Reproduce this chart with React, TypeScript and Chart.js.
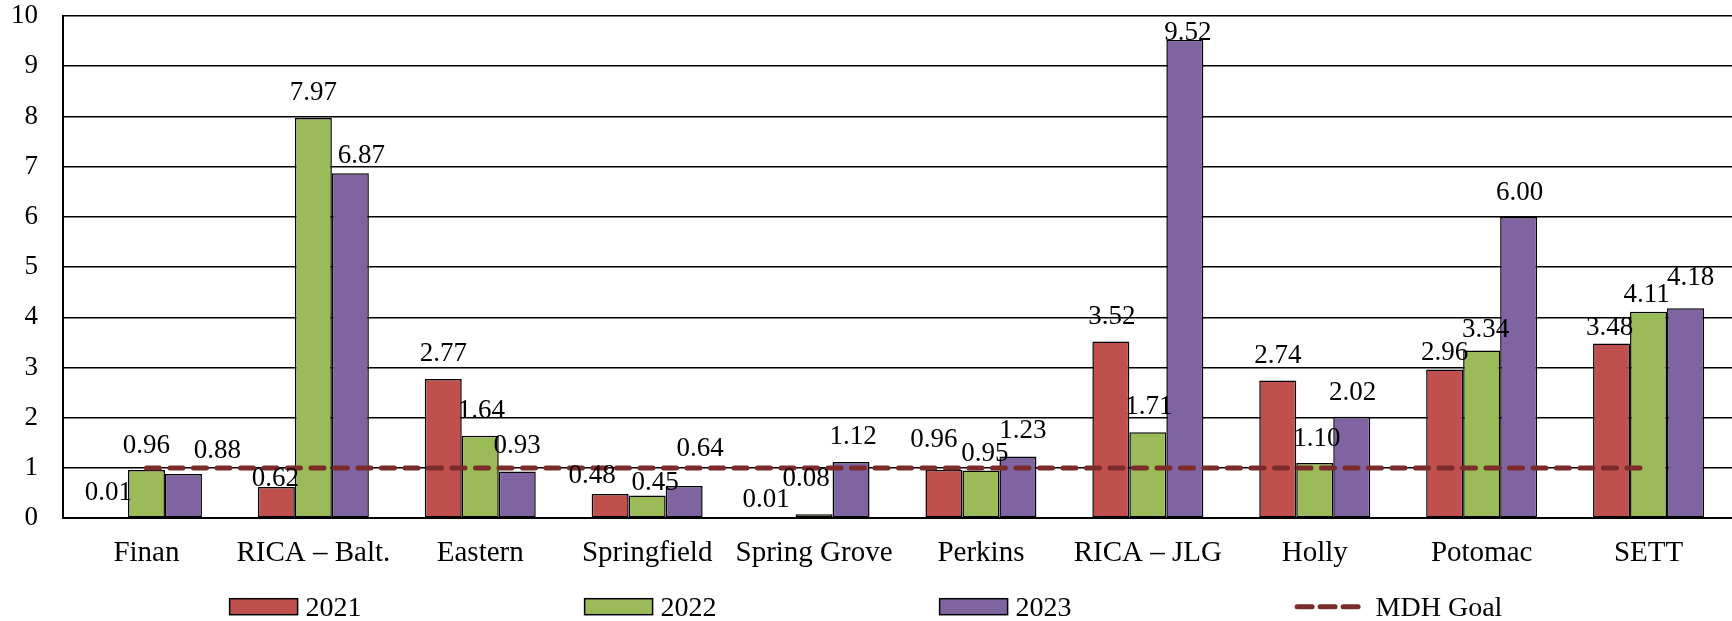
import { useEffect, useRef } from 'react';
import { Chart, registerables } from 'chart.js';

Chart.register(...registerables);

const categories = ['Finan', 'RICA – Balt.', 'Eastern', 'Springfield', 'Spring Grove', 'Perkins', 'RICA – JLG', 'Holly', 'Potomac', 'SETT'];
const values2021 = [0.01, 0.62, 2.77, 0.48, 0.01, 0.96, 3.52, 2.74, 2.96, 3.48];
const values2022 = [0.96, 7.97, 1.64, 0.45, 0.08, 0.95, 1.71, 1.1, 3.34, 4.11];
const values2023 = [0.88, 6.87, 0.93, 0.64, 1.12, 1.23, 9.52, 2.02, 6.0, 4.18];
const mdhGoal = [1, 1, 1, 1, 1, 1, 1, 1, 1, 1];
const seriesNames = ['2021', '2022', '2023', 'MDH Goal'];

// label nudges (horizontal shift and gap above bar top), as placed in the original
const labelDx2021 = [-1, -1, 0, -18, -11, -10, 1, 0, 0, -2];
const labelGap2021 = [18, 1, 18, 11, 11, 23, 17, 18, 10, 8];
const labelDx2022 = [0, 0, 1, 8, -8, 4, 1, 2, 4, -2];
const labelGap2022 = [17, 18, 18, 6, 28, 9, 18, 17, 13, 10];
const labelDx2023 = [34, 11, 0, 16, 2, 5, 3, 1, 1, 5];
const labelGap2023 = [16, 10, 18, 30, 18, 18, 0, 17, 17, 23];

const RED = '#C0504D';
const GREEN = '#9BBB59';
const PURPLE = '#8064A2';
const GOAL = '#7B2C2A';
const FONT = "'Liberation Serif', 'Times New Roman', serif";

const labelPlugin = {
  id: 'valueLabels',
  afterDraw(chart: any) {
    const ctx = chart.ctx;
    const dxs = [labelDx2021, labelDx2022, labelDx2023];
    const gaps = [labelGap2021, labelGap2022, labelGap2023];
    ctx.save();
    ctx.font = `27px ${FONT}`;
    ctx.fillStyle = '#000';
    ctx.textAlign = 'center';
    ctx.textBaseline = 'alphabetic';
    for (let d = 0; d < 3; d++) {
      const meta = chart.getDatasetMeta(d);
      const vals = chart.data.datasets[d].data as number[];
      meta.data.forEach((bar: any, i: number) => {
        ctx.fillText(vals[i].toFixed(2), bar.x + dxs[d][i], bar.y - gaps[d][i]);
      });
    }
    ctx.restore();
  },
};

const legendPlugin = {
  id: 'customLegend',
  afterDraw(chart: any) {
    const ctx = chart.ctx;
    const colors = [RED, GREEN, PURPLE];
    ctx.save();
    ctx.font = `28px ${FONT}`;
    const slot = 355;
    const boxW = 68;
    const boxH = 16;
    const gapText = 8;
    const lineW = 68;
    const lastW = lineW + gapText + 5 + ctx.measureText(seriesNames[3]).width;
    const total = 3 * slot + lastW;
    const start = chart.width / 2 - total / 2;
    const cy = chart.chartArea.bottom + 88.5;
    ctx.textBaseline = 'alphabetic';
    ctx.textAlign = 'left';
    for (let k = 0; k < 3; k++) {
      const x = start + k * slot;
      ctx.fillStyle = colors[k];
      ctx.fillRect(x, cy - boxH / 2, boxW, boxH);
      ctx.strokeStyle = '#000';
      ctx.lineWidth = 1.5;
      ctx.strokeRect(x, cy - boxH / 2, boxW, boxH);
      ctx.fillStyle = '#000';
      ctx.fillText(seriesNames[k], x + boxW + gapText, cy + 9.7);
    }
    const x = start + 3 * slot;
    ctx.strokeStyle = GOAL;
    ctx.lineWidth = 5;
    ctx.lineCap = 'round';
    ctx.setLineDash([15, 8]);
    ctx.beginPath();
    ctx.moveTo(x + 2.5, cy);
    ctx.lineTo(x + lineW - 2.5, cy);
    ctx.stroke();
    ctx.setLineDash([]);
    ctx.fillStyle = '#000';
    ctx.fillText(seriesNames[3], x + lineW + gapText + 5, cy + 9.7);
    ctx.restore();
  },
};

export default function App() {
  const ref = useRef<HTMLCanvasElement | null>(null);
  useEffect(() => {
    if (!ref.current) return;
    const chart = new Chart(ref.current, {
      type: 'bar',
      data: {
        labels: categories,
        datasets: [
          { type: 'bar', label: seriesNames[0], data: values2021, backgroundColor: RED, borderColor: '#000', borderWidth: 1.5, borderSkipped: false, order: 1 },
          { type: 'bar', label: seriesNames[1], data: values2022, backgroundColor: GREEN, borderColor: '#000', borderWidth: 1.5, borderSkipped: false, order: 1 },
          { type: 'bar', label: seriesNames[2], data: values2023, backgroundColor: PURPLE, borderColor: '#000', borderWidth: 1.5, borderSkipped: false, order: 1 },
          { type: 'line', label: seriesNames[3], data: mdhGoal, borderColor: GOAL, borderWidth: 5, borderDash: [13, 10.5], borderCapStyle: 'round', pointRadius: 0, fill: false, order: 0 } as any,
        ],
      },
      options: {
        animation: false,
        responsive: false,
        maintainAspectRatio: false,
        devicePixelRatio: 1,
        layout: { padding: { left: -14, right: 0, top: 0, bottom: 32 } },
        datasets: { bar: { barPercentage: 1, categoryPercentage: 0.665 } },
        plugins: { legend: { display: false }, tooltip: { enabled: false } },
        scales: {
          x: {
            grid: { display: false, drawTicks: false },
            border: { display: true, color: '#000', width: 2 },
            ticks: { color: '#000', font: { family: FONT, size: 29 }, padding: 18, maxRotation: 0, autoSkip: false },
          },
          y: {
            min: 0,
            max: 10,
            grid: { color: '#000', lineWidth: 1.5, drawTicks: false },
            border: { display: true, color: '#000', width: 2 },
            ticks: { stepSize: 1, color: '#000', font: { family: FONT, size: 27 }, padding: 25 },
            afterFit: (scale: any) => {
              scale.paddingTop = 16;
              scale.paddingBottom = 0;
            },
          },
        },
      },
      plugins: [labelPlugin, legendPlugin],
    });
    return () => chart.destroy();
  }, []);
  return (
    <div style={{ position: 'absolute', left: 0, top: 0, width: 1732, height: 621, background: '#fff' }}>
      <canvas ref={ref} width={1732} height={621} style={{ display: 'block' }} />
    </div>
  );
}
